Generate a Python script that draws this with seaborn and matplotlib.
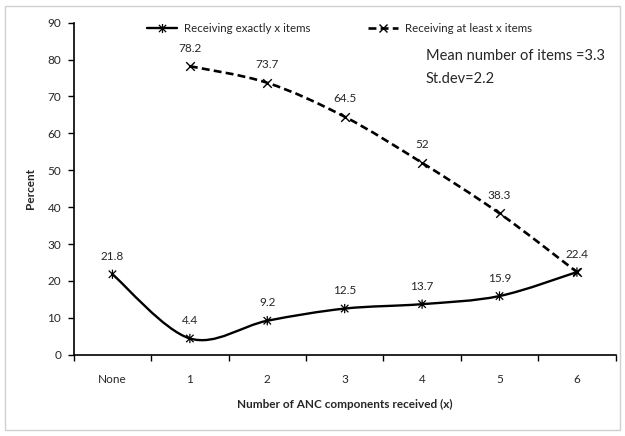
import matplotlib
matplotlib.use("Agg")
import matplotlib.pyplot as plt
from matplotlib.path import Path
from matplotlib.patches import PathPatch, Rectangle
from matplotlib.lines import Line2D
import seaborn as sns
import numpy as np

categories = ["None", "1", "2", "3", "4", "5", "6"]
exactly = [21.8, 4.4, 9.2, 12.5, 13.7, 15.9, 22.4]
at_least_cats = ["1", "2", "3", "4", "5", "6"]
at_least = [78.2, 73.7, 64.5, 52, 38.3, 22.4]
y_ticks = [0, 10, 20, 30, 40, 50, 60, 70, 80, 90]
label_exactly = "Receiving exactly x items"
label_atleast = "Receiving at least x items"
note_lines = ["Mean number of items =3.3", "St.dev=2.2"]

sns.set_theme(style="white")
plt.rcParams['font.family'] = ['Lato', 'DejaVu Sans']

fig = plt.figure(figsize=(6.25, 4.36), dpi=100)
ax = fig.add_axes([0.118, 0.1865, 0.867, 0.7615])

xe = [categories.index(c) for c in categories]
xa = [categories.index(c) for c in at_least_cats]

star_marker = Path([(0, -1), (0, 1), (-0.8, -0.8), (0.8, 0.8),
                    (-0.8, 0.8), (0.8, -0.8)],
                   [Path.MOVETO, Path.LINETO, Path.MOVETO, Path.LINETO,
                    Path.MOVETO, Path.LINETO])


def smooth_path(xs, ys):
    pts = np.column_stack([xs, ys]).astype(float)
    n = len(pts)
    verts = [pts[0]]
    codes = [Path.MOVETO]
    for i in range(n - 1):
        p0 = pts[i - 1] if i > 0 else pts[i]
        p1 = pts[i]
        p2 = pts[i + 1]
        p3 = pts[i + 2] if i + 2 < n else pts[i + 1]
        c1 = p1 + (p2 - p0) / 6.0
        c2 = p2 - (p3 - p1) / 6.0
        verts += [c1, c2, p2]
        codes += [Path.CURVE4] * 3
    return Path(verts, codes)


dash = (0, (3.0, 1.6))
ax.add_patch(PathPatch(smooth_path(xe, exactly), fill=False, lw=1.7,
                       ec="black", ls="-", capstyle="butt"))
ax.add_patch(PathPatch(smooth_path(xa, at_least), fill=False, lw=1.9,
                       ec="black", ls=dash, capstyle="butt"))

sns.scatterplot(x=xe, y=exactly, marker=star_marker, s=45,
                facecolor="none", edgecolor="black",
                linewidth=0.9, ax=ax, legend=False, zorder=5)
sns.scatterplot(x=xa, y=at_least, marker="x", s=38, color="black",
                linewidth=1.0, ax=ax, legend=False, zorder=5)

for x, y in zip(xe, exactly):
    ax.annotate(f"{y:g}", (x, y), xytext=(0, 9), textcoords="offset points",
                ha="center", va="bottom", fontsize=8.5)
for x, y, c in zip(xa, at_least, at_least_cats):
    if c == "6":
        continue
    ax.annotate(f"{y:g}", (x, y), xytext=(0, 9), textcoords="offset points",
                ha="center", va="bottom", fontsize=8.5)

ax.set_xlim(-0.5, len(categories) - 0.5)
ax.set_ylim(0, 90)
ax.set_yticks(y_ticks)
ax.set_xticks(range(len(categories)))
ax.set_xticklabels(categories)
ax.set_xticks(np.arange(-0.5, len(categories), 1.0), minor=True)
ax.tick_params(axis="x", which="major", length=0, pad=14, labelsize=8.5)
ax.tick_params(axis="x", which="minor", length=4, width=1, direction="out",
               color="black", bottom=True)
ax.tick_params(axis="y", length=4, width=1, direction="out", color="black",
               left=True, labelsize=8.5, pad=5)

for s in ["top", "right"]:
    ax.spines[s].set_visible(False)
for s in ["left", "bottom"]:
    ax.spines[s].set_color("black")
    ax.spines[s].set_linewidth(1.2)

ax.set_ylabel("Percent", fontsize=8.5, fontweight="bold", labelpad=8)
ax.set_xlabel("Number of ANC components received (x)", fontsize=8.5,
              fontweight="bold", labelpad=10)

h1 = Line2D([], [], color="black", lw=1.7, marker=star_marker, ms=6.5,
            mew=0.9)
h2 = Line2D([], [], color="black", lw=1.9, ls=dash, marker="x",
            ms=6, mew=1.0)
ax.legend([h1, h2], [label_exactly, label_atleast], ncol=2, frameon=False,
          loc="upper center", bbox_to_anchor=(0.49, 1.03), fontsize=8.3,
          handlelength=2.6, columnspacing=5.0, handletextpad=0.6)

ax.text(0.65, 0.9, note_lines[0], transform=ax.transAxes, fontsize=10.5,
        va="center", ha="left")
ax.text(0.65, 0.83, note_lines[1], transform=ax.transAxes, fontsize=10.5,
        va="center", ha="left")

fig.patches.append(Rectangle((5 / 625, 6 / 436), 615 / 625, 424 / 436,
                             transform=fig.transFigure, fill=False,
                             ec="#d0d0d0", lw=1))

fig.savefig("out.png", dpi=100)
